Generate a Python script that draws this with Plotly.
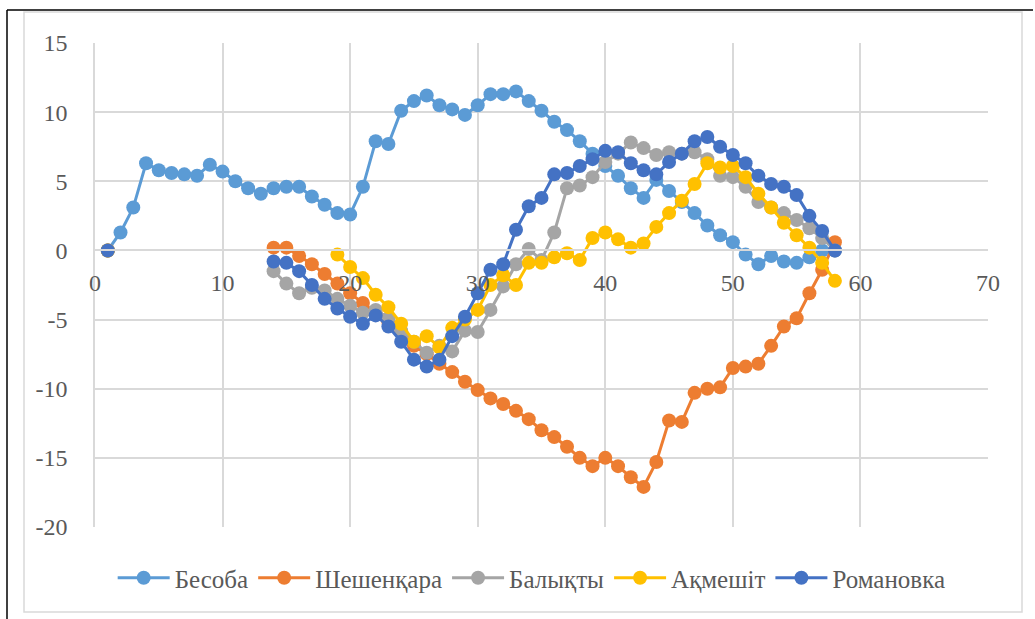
import plotly.graph_objects as go

x_vals = list(range(1, 59))

besoba = [0, 1.3, 3.1, 6.3, 5.8, 5.6, 5.5, 5.4, 6.2, 5.7,
          5.0, 4.5, 4.1, 4.5, 4.6, 4.6, 3.9, 3.3, 2.7, 2.6,
          4.6, 7.9, 7.7, 10.1, 10.8, 11.2, 10.5, 10.2, 9.8, 10.5,
          11.3, 11.3, 11.5, 10.8, 10.1, 9.3, 8.7, 7.9, 7.0, 6.1,
          5.4, 4.5, 3.8, 5.1, 4.3, 3.5, 2.7, 1.8, 1.1, 0.6,
          -0.3, -1.0, -0.4, -0.8, -0.9, -0.5, 0.0, 0.0]

# values from x=14 to x=58 (x=1 is 0, gap in between)
shesh_tail = [0.2, 0.2, -0.4, -1.0, -1.7, -2.4, -3.1, -3.8, -4.5, -5.2,
              -5.9, -6.9, -7.5, -8.2, -8.8, -9.5, -10.1, -10.7, -11.1, -11.6,
              -12.2, -13.0, -13.5, -14.2, -15.0, -15.6, -15.0, -15.6, -16.4, -17.1,
              -15.3, -12.3, -12.4, -10.3, -10.0, -9.9, -8.5, -8.4, -8.2, -6.9,
              -5.5, -4.9, -3.1, -1.4, 0.6]

balykty_tail = [-1.5, -2.4, -3.1, -2.7, -2.9, -3.5, -4.0, -4.5, -4.3, -4.9,
                -5.8, -6.6, -7.4, -6.9, -7.3, -5.8, -5.9, -4.3, -2.6, -1.0,
                0.1, -0.7, 1.3, 4.5, 4.7, 5.3, 6.4, 7.0, 7.8, 7.4,
                6.9, 7.1, 7.0, 7.1, 6.6, 5.4, 5.3, 4.6, 3.5, 3.1,
                2.7, 2.2, 1.6, 0.9, 0.0]

# values from x=19 to x=58
akmeshit_tail = [-0.3, -1.2, -2.0, -3.2, -4.1, -5.3, -6.6, -6.2, -7.0, -5.6,
                 -5.0, -4.3, -2.5, -1.8, -2.5, -0.9, -0.9, -0.5, -0.2, -0.7,
                 0.9, 1.3, 0.8, 0.2, 0.5, 1.7, 2.7, 3.6, 4.8, 6.3,
                 6.0, 6.1, 5.3, 4.1, 3.1, 2.0, 1.1, 0.2, -0.9, -2.2]

# values from x=14 to x=58
romanovka_tail = [-0.8, -0.9, -1.5, -2.5, -3.5, -4.2, -4.8, -5.3, -4.7, -5.5,
                  -6.6, -7.9, -8.4, -7.9, -6.2, -4.8, -3.1, -1.4, -1.0, 1.5,
                  3.2, 3.8, 5.5, 5.6, 6.1, 6.6, 7.2, 7.1, 6.3, 5.8,
                  5.5, 6.4, 7.0, 7.9, 8.2, 7.5, 6.9, 6.3, 5.4, 4.8,
                  4.6, 4.0, 2.5, 1.4, 0.0]


def with_gap(tail):
    return [0] + [None] * (len(x_vals) - 1 - len(tail)) + tail


names = ["Бесоба", "Шешенқара", "Балықты", "Ақмешіт", "Романовка"]
colors = ["#5B9BD5", "#ED7D31", "#A5A5A5", "#FFC000", "#4472C4"]
series = [besoba, with_gap(shesh_tail), with_gap(balykty_tail),
          with_gap(akmeshit_tail), with_gap(romanovka_tail)]

x_ticks = [0, 10, 20, 30, 40, 50, 60, 70]
y_ticks = [-20, -15, -10, -5, 0, 5, 10, 15]

fig = go.Figure()
for name, color, ys in zip(names, colors, series):
    fig.add_trace(go.Scatter(
        x=x_vals, y=ys, name=name, mode="lines+markers",
        line=dict(color=color, width=3),
        marker=dict(color=color, size=14),
        connectgaps=False,
    ))

font = "Liberation Serif, Times New Roman, serif"
W, H = 1035, 619
L, R, T, B = 95, 47, 43, 92
pw, ph = W - L - R, H - T - B


def px_x(p):
    return (p - L) / pw


def px_y(p):
    return (H - B - p) / ph


y0_pos = (0 - (-20)) / 35.0

fig.update_layout(
    width=W, height=H,
    margin=dict(l=L, r=R, t=T, b=B),
    paper_bgcolor="white", plot_bgcolor="white",
    font=dict(family=font, size=24, color="#595959"),
    showlegend=True,
    legend=dict(orientation="h", x=0.489, xanchor="center",
                y=px_y(578), yanchor="middle",
                font=dict(family=font, size=25, color="#595959"),
                itemwidth=52, tracegroupgap=0),
    xaxis=dict(range=[0, 70], tickvals=x_ticks, ticktext=[str(v) for v in x_ticks],
               showgrid=True, gridcolor="#D9D9D9", gridwidth=1.5,
               zeroline=False, showline=True, linecolor="#D9D9D9", linewidth=1.5,
               anchor="free", position=y0_pos, side="bottom",
               ticks="", ticklabelstandoff=11,
               tickfont=dict(family=font, size=24, color="#595959")),
    yaxis=dict(range=[-20, 15], tickvals=y_ticks, ticktext=[str(v) for v in y_ticks],
               showgrid=True, gridcolor="#D9D9D9", gridwidth=1.5,
               zeroline=False, showline=True, linecolor="#D9D9D9", linewidth=1.5,
               ticks="", ticklabelstandoff=21,
               tickfont=dict(family=font, size=24, color="#595959")),
    shapes=[
        dict(type="rect", xref="paper", yref="paper",
             x0=px_x(24), x1=px_x(1022), y0=px_y(612), y1=px_y(12),
             line=dict(color="#D9D9D9", width=1.5), layer="below"),
        dict(type="line", xref="paper", yref="paper",
             x0=px_x(7), x1=px_x(1033), y0=px_y(10), y1=px_y(10),
             line=dict(color="black", width=1.5)),
        dict(type="line", xref="paper", yref="paper",
             x0=px_x(7), x1=px_x(7), y0=px_y(10), y1=px_y(619),
             line=dict(color="black", width=1.5)),
    ],
)

fig.write_html("out.html", config={"displayModeBar": False},
               post_script="document.body.style.margin='0';document.body.style.overflow='hidden';")
